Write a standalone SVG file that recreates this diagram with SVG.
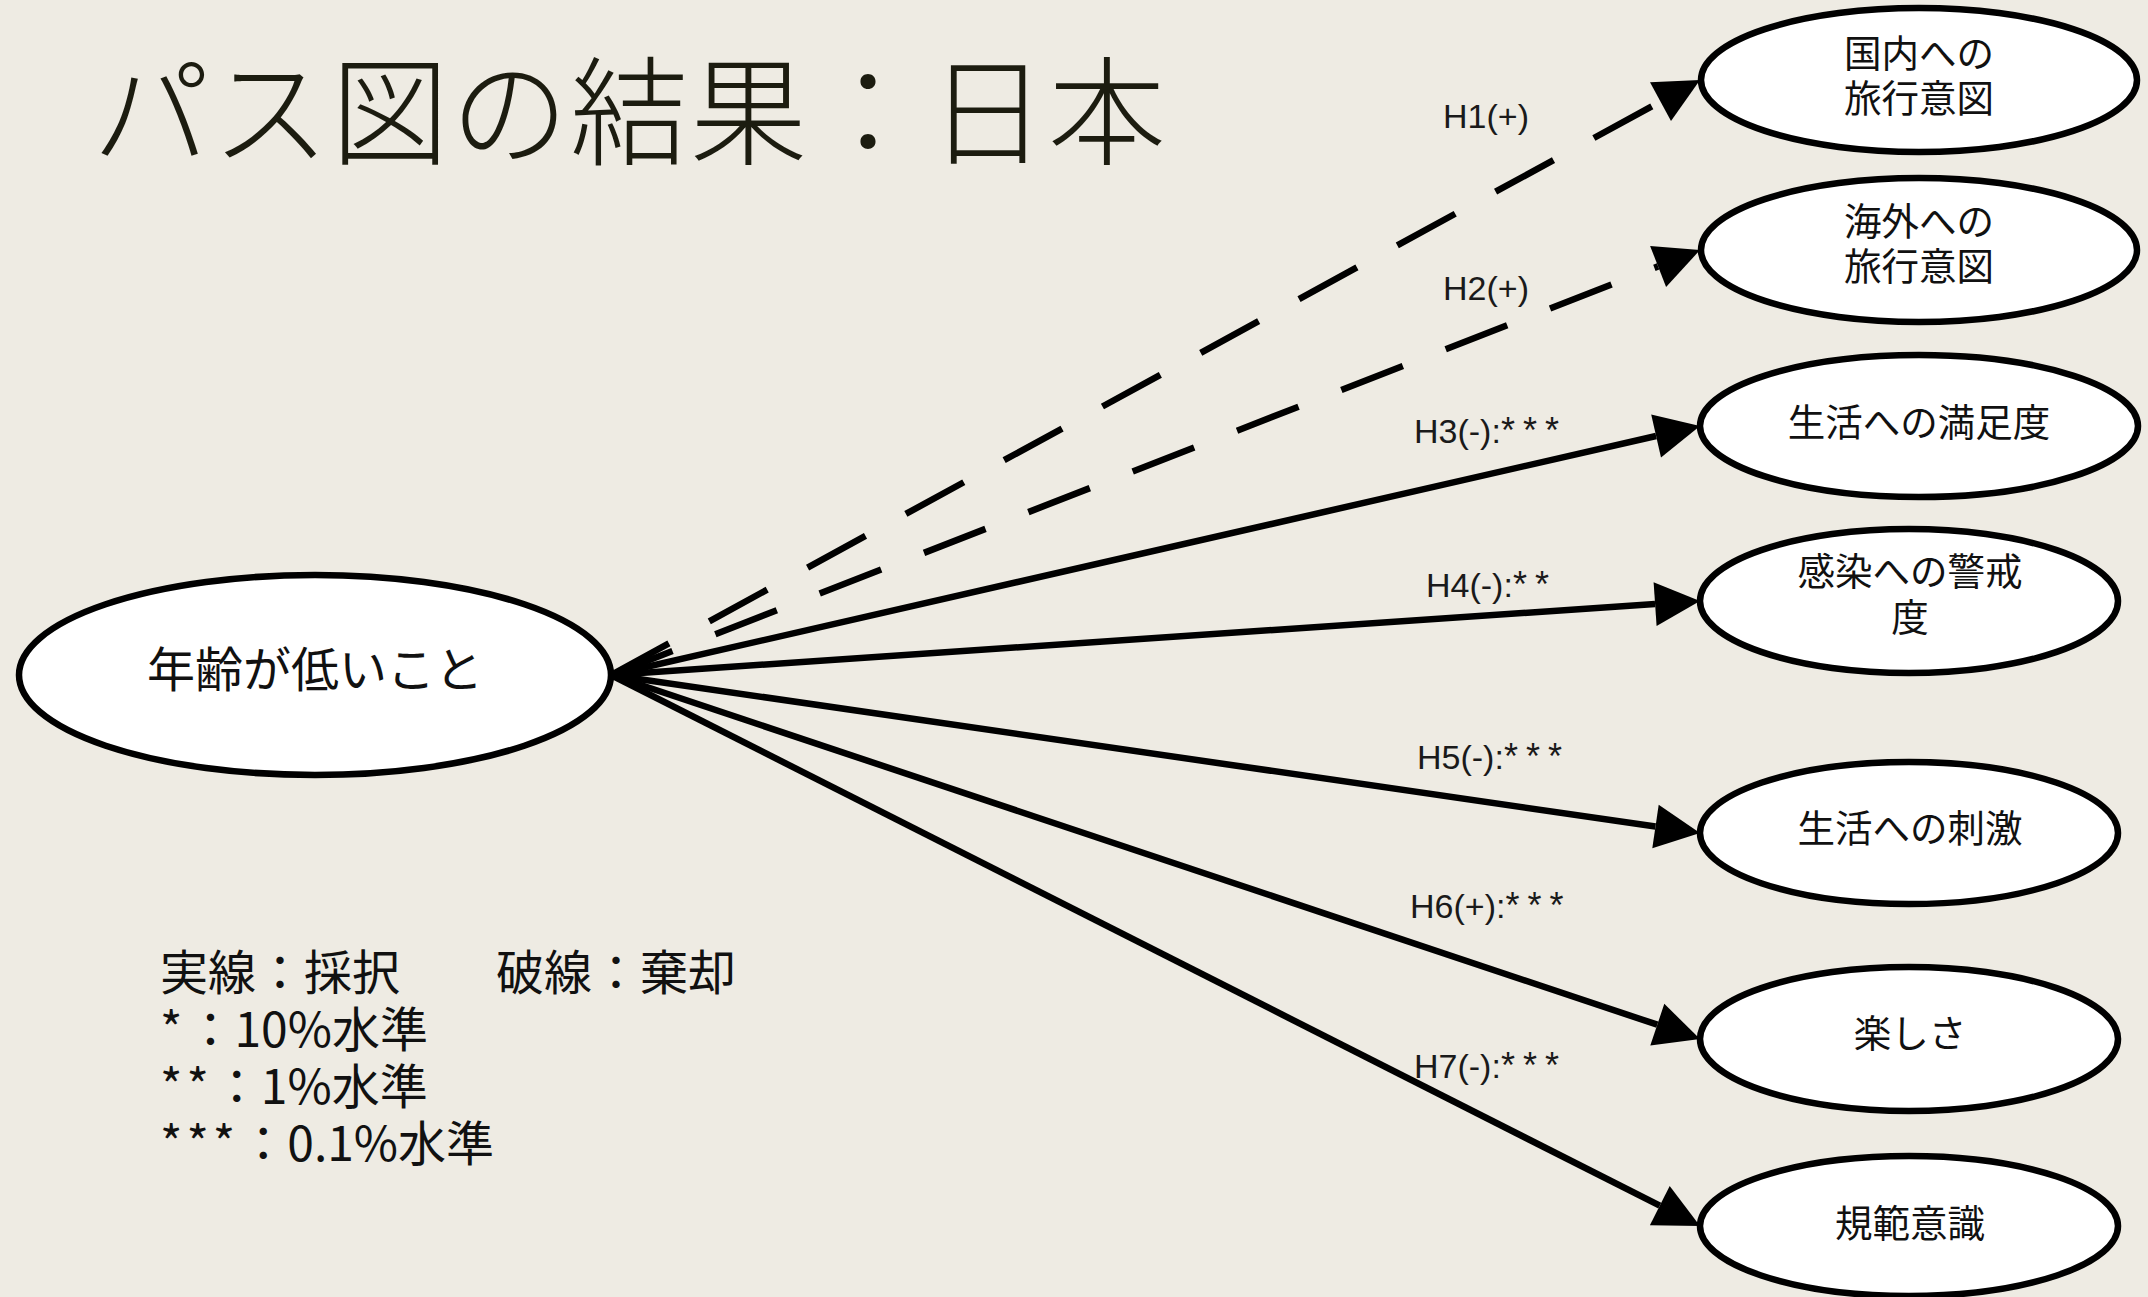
<svg xmlns="http://www.w3.org/2000/svg" width="2148" height="1297" viewBox="0 0 2148 1297">
<style>
.jp{font-family:'Noto Sans CJK JP','Noto Sans CJK SC',sans-serif;fill:#111;}
.node ellipse{fill:#fff;stroke:#000;stroke-width:6.5;}
.node text{font-size:37.5px;text-anchor:middle;}
.lbl{font-family:'Liberation Sans',Arial,sans-serif;font-size:34px;fill:#1a1a1a;}
.ast{letter-spacing:8px;font-size:36px;}
.edge{fill:none;stroke:#000;stroke-width:6.5;}
.dash{stroke-dasharray:66 46;}
.head{fill:#000;stroke:none;}
.legend{font-size:48px;fill:#111;}
.last{letter-spacing:4px;}
</style>
<rect width="2148" height="1297" fill="#EEEBE3"/>
<text class="jp" x="92" y="156" font-size="118" font-weight="300" letter-spacing="1.5" style="fill:#1c1c10">パス図の結果：日本</text>

<g id="connectors">
<path class="edge dash" d="M611,675 L1660.5,101.6"/>
<path class="edge dash" d="M611,675 L1658.1,266.4"/>
<path class="edge" d="M611,675 L1656.1,436"/>
<path class="edge" d="M611,675 L1655.1,604.1"/>
<path class="edge" d="M611,675 L1655.5,826.5"/>
<path class="edge" d="M611,675 L1657.3,1024.7"/>
<path class="edge" d="M611,675 L1659.8,1205.7"/>
<polygon class="head" points="1700,80 1650.0,82.3 1671.0,120.9"/>
<polygon class="head" points="1700,250 1650.1,245.9 1666.1,286.9"/>
<polygon class="head" points="1700,426 1651.2,414.6 1661.0,457.4"/>
<polygon class="head" points="1700,601 1653.6,582.2 1656.6,626.0"/>
<polygon class="head" points="1700,833 1658.7,804.7 1652.3,848.3"/>
<polygon class="head" points="1700,1039 1664.3,1003.8 1650.3,1045.6"/>
<polygon class="head" points="1700,1226 1669.7,1186.1 1649.9,1225.3"/>
<text class="lbl" x="1443" y="128">H1(+)</text>
<text class="lbl" x="1443" y="300">H2(+)</text>
<text class="lbl" x="1414" y="443">H3(-):<tspan class="ast">***</tspan></text>
<text class="lbl" x="1426" y="597">H4(-):<tspan class="ast">**</tspan></text>
<text class="lbl" x="1417" y="769">H5(-):<tspan class="ast">***</tspan></text>
<text class="lbl" x="1410" y="918">H6(+):<tspan class="ast">***</tspan></text>
<text class="lbl" x="1414" y="1078">H7(-):<tspan class="ast">***</tspan></text>
</g>

<g id="n0" class="node">
<ellipse cx="315" cy="675" rx="296" ry="100"/>
<text class="jp" x="315" y="687" style="font-size:48px">年齢が低いこと</text>
</g>
<g id="n1" class="node">
<ellipse cx="1919" cy="80" rx="218" ry="72"/>
<text class="jp" x="1919" y="67">国内への</text>
<text class="jp" x="1919" y="112">旅行意図</text>
</g>
<g id="n2" class="node">
<ellipse cx="1919" cy="250" rx="218" ry="72"/>
<text class="jp" x="1919" y="235">海外への</text>
<text class="jp" x="1919" y="280">旅行意図</text>
</g>
<g id="n3" class="node">
<ellipse cx="1919" cy="426" rx="219" ry="71"/>
<text class="jp" x="1919" y="436">生活への満足度</text>
</g>
<g id="n4" class="node">
<ellipse cx="1909" cy="601" rx="209" ry="72"/>
<text class="jp" x="1910" y="585">感染への警戒</text>
<text class="jp" x="1910" y="631">度</text>
</g>
<g id="n5" class="node">
<ellipse cx="1909" cy="833" rx="209" ry="71"/>
<text class="jp" x="1910" y="842">生活への刺激</text>
</g>
<g id="n6" class="node">
<ellipse cx="1909" cy="1039" rx="209" ry="72"/>
<text class="jp" x="1910" y="1047">楽しさ</text>
</g>
<g id="n7" class="node">
<ellipse cx="1909" cy="1226" rx="209" ry="70"/>
<text class="jp" x="1910" y="1237">規範意識</text>
</g>

<g id="legend" class="jp legend">
<text x="160" y="990">実線：採択　　破線：棄却</text>
<text x="160" y="1047"><tspan class="last">*</tspan>：10%水準</text>
<text x="160" y="1104"><tspan class="last">**</tspan>：1%水準</text>
<text x="160" y="1161"><tspan class="last">***</tspan>：0.1%水準</text>
</g>
</svg>
